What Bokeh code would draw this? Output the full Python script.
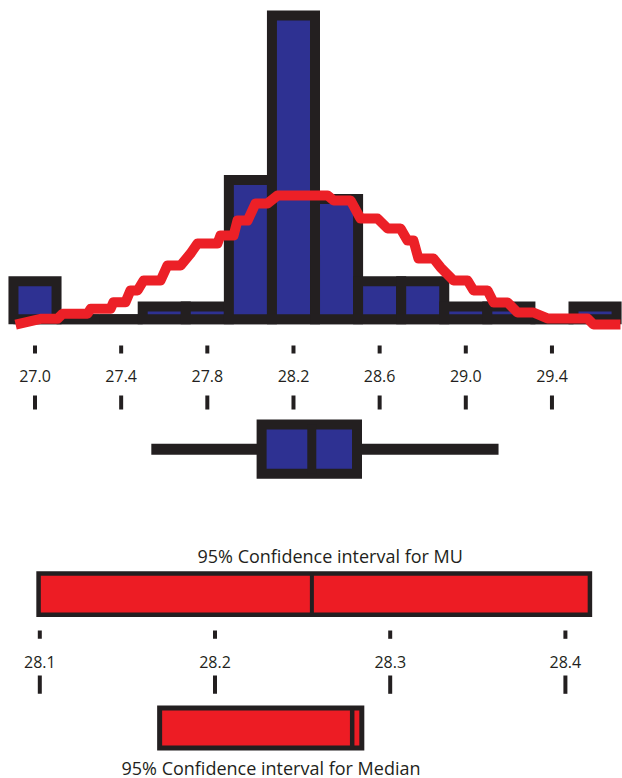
from bokeh.plotting import figure
from bokeh.layouts import column
from bokeh.models import Range1d, Label
from bokeh.core.properties import value
from bokeh.embed import file_html
from bokeh.resources import INLINE

# ---------------- data ----------------
bin_centers = [27.0, 27.2, 27.4, 27.6, 27.8, 28.0, 28.2, 28.4, 28.6, 28.8, 29.0, 29.2, 29.4, 29.6]
bin_counts = [3, 0, 0, 1, 1, 11, 24, 9.5, 3, 3, 1, 1, 0, 1]
bin_width = 0.2

curve_x = [26.910, 27.026, 27.105, 27.128, 27.244, 27.258, 27.351, 27.364, 27.420, 27.443,
           27.476, 27.504, 27.583, 27.615, 27.676, 27.722, 27.754, 27.847, 27.861, 27.922,
           27.940, 27.987, 28.024, 28.079, 28.126, 28.358, 28.386, 28.465, 28.511, 28.590,
           28.637, 28.697, 28.729, 28.757, 28.780, 28.850, 28.883, 28.943, 29.008, 29.036,
           29.101, 29.129, 29.194, 29.240, 29.314, 29.379, 29.565, 29.593, 29.718]
curve_y = [-0.42, 0.03, 0.03, 0.43, 0.43, 0.82, 0.82, 1.34, 1.34, 2.27,
           2.27, 3.06, 3.06, 4.25, 4.25, 5.19, 5.98, 5.98, 6.62, 6.62,
           7.80, 7.80, 9.15, 9.15, 9.78, 9.78, 9.39, 9.39, 7.96, 7.96,
           7.17, 7.17, 6.22, 6.22, 4.80, 4.80, 4.09, 3.06, 3.06, 2.27,
           2.27, 1.32, 1.32, 0.53, 0.53, 0.06, 0.06, -0.42, -0.42]

axis_ticks = [27.0, 27.4, 27.8, 28.2, 28.6, 29.0, 29.4]
axis_labels = ["27.0", "27.4", "27.8", "28.2", "28.6", "29.0", "29.4"]

box_whisker_low = 27.54
box_q1 = 28.052
box_median = 28.285
box_q3 = 28.495
box_whisker_high = 29.152

ci_ticks = [28.1, 28.2, 28.3, 28.4]
ci_labels = ["28.1", "28.2", "28.3", "28.4"]
mu_low, mu_mean, mu_high = 28.0993, 28.2553, 28.414
med_low, med_est, med_high = 28.1684, 28.2783, 28.2838

title_mu = "95% Confidence interval for MU"
title_median = "95% Confidence interval for Median"

# ---------------- style ----------------
W = 622
NAVY = "#2e3192"
DARK = "#231f20"
RED = "#ed1c24"
CURVE = "#ec2027"
FONT = "Open Sans"

main_range = Range1d(26.83983, 29.72748)
ci_range = Range1d(28.077568, 28.432591)


def base_fig(h, xr, yr):
    p = figure(width=W, height=h, x_range=xr, y_range=yr,
               output_backend="svg", toolbar_location=None,
               x_axis_location=None, y_axis_location=None,
               min_border=0, outline_line_color=None,
               background_fill_color="white", border_fill_color="white")
    p.xgrid.visible = False
    p.ygrid.visible = False
    return p


# ---------------- histogram ----------------
f1 = base_fig(335, main_range, Range1d(-1.2885, 25.194))
lefts = [c - bin_width / 2 for c in bin_centers]
rights = [c + bin_width / 2 for c in bin_centers]
f1.segment(x0=[min(lefts)], y0=[0], x1=[max(rights)], y1=[0],
           line_color=DARK, line_width=10)
f1.quad(left=lefts, right=rights, top=bin_counts, bottom=[0] * len(bin_counts),
        fill_color=NAVY, line_color=DARK, line_width=10, line_join="miter")
f1.line(curve_x, curve_y, line_color=CURVE, line_width=10, line_join="round")

# ---------------- axis + box plot (pixel-row layout) ----------------
f2 = base_fig(160, main_range, Range1d(495, 335))
f2.segment(x0=axis_ticks, y0=[345] * len(axis_ticks), x1=axis_ticks, y1=[353] * len(axis_ticks),
           line_color=DARK, line_width=4)
f2.text(x=axis_ticks, y=[375] * len(axis_ticks), text=axis_labels,
        text_font=value(FONT), text_font_size="16px", text_color=DARK,
        text_align="center", text_baseline="alphabetic")
f2.segment(x0=axis_ticks, y0=[395] * len(axis_ticks), x1=axis_ticks, y1=[409] * len(axis_ticks),
           line_color=DARK, line_width=4)
f2.segment(x0=[box_whisker_low], y0=[448.8], x1=[box_whisker_high], y1=[448.8],
           line_color=DARK, line_width=11)
f2.quad(left=[box_q1], right=[box_q3], top=[424], bottom=[473.3],
        fill_color=NAVY, line_color=DARK, line_width=10, line_join="miter")
f2.segment(x0=[box_median], y0=[424], x1=[box_median], y1=[473.3],
           line_color=DARK, line_width=9)

# ---------------- confidence intervals ----------------
f3 = base_fig(283, ci_range, Range1d(778, 495))
f3.add_layout(Label(x=197, y=555, x_units="screen", y_units="data", text=title_mu,
                    text_font=FONT, text_font_size="18px", text_color=DARK,
                    text_baseline="alphabetic"))
f3.quad(left=[mu_low], right=[mu_high], top=[573], bottom=[614.2],
        fill_color=RED, line_color=DARK, line_width=4.5, line_join="miter")
f3.segment(x0=[mu_mean], y0=[573], x1=[mu_mean], y1=[614.2], line_color=DARK, line_width=4)
f3.segment(x0=ci_ticks, y0=[630] * len(ci_ticks), x1=ci_ticks, y1=[638.3] * len(ci_ticks),
           line_color=DARK, line_width=4)
f3.text(x=ci_ticks, y=[661.5] * len(ci_ticks), text=ci_labels,
        text_font=value(FONT), text_font_size="16px", text_color=DARK,
        text_align="center", text_baseline="alphabetic")
f3.segment(x0=ci_ticks, y0=[675] * len(ci_ticks), x1=ci_ticks, y1=[693.3] * len(ci_ticks),
           line_color=DARK, line_width=4)
f3.quad(left=[med_low], right=[med_high], top=[707.5], bottom=[747.5],
        fill_color=RED, line_color=DARK, line_width=5, line_join="miter")
f3.segment(x0=[med_est], y0=[707.5], x1=[med_est], y1=[747.5], line_color=DARK, line_width=4.5)
f3.add_layout(Label(x=121, y=767, x_units="screen", y_units="data", text=title_median,
                    text_font=FONT, text_font_size="18px", text_color=DARK,
                    text_baseline="alphabetic"))

layout = column(f1, f2, f3, spacing=0)
open("out.html", "w").write(file_html(layout, INLINE))
